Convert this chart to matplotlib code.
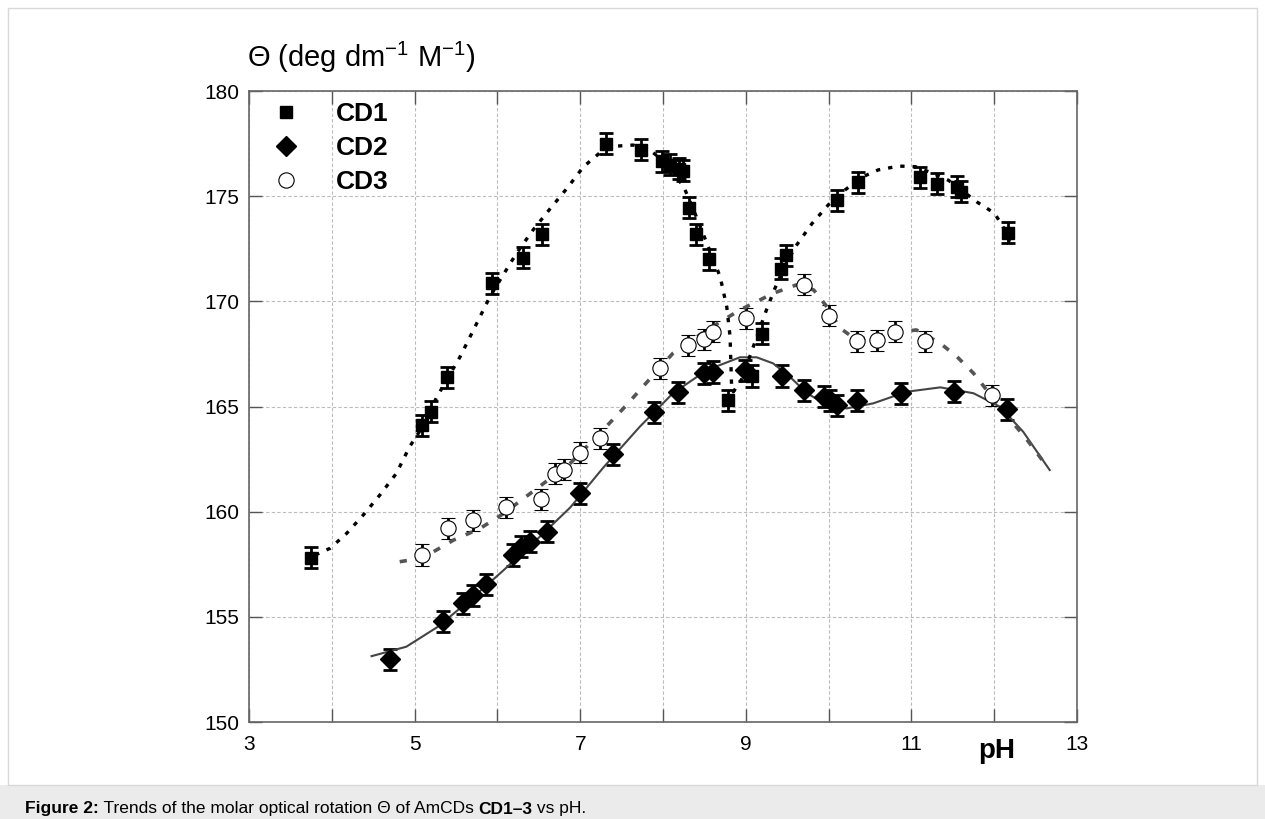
import matplotlib
matplotlib.use('Agg')
import matplotlib.pyplot as plt
from matplotlib.lines import Line2D
from matplotlib.patches import Rectangle

plt.rcParams['font.family'] = ['Liberation Sans', 'DejaVu Sans']
plt.rcParams['mathtext.fontset'] = 'custom'
plt.rcParams['mathtext.rm'] = 'Liberation Sans'
plt.rcParams['mathtext.bf'] = 'Liberation Sans:bold'

# measured points (pH, molar rotation)
cd1_ph = [3.75, 5.09, 5.20, 5.39, 5.93, 6.31, 6.54, 7.31, 7.74, 7.99, 8.08, 8.19, 8.24,
          8.31, 8.40, 8.56, 8.79, 9.08, 9.20, 9.43, 9.49, 10.10, 10.35, 11.10, 11.31,
          11.55, 11.60, 12.17]
cd1_th = [157.8, 164.1, 164.75, 166.4, 170.85, 172.07, 173.2, 177.5, 177.2, 176.65, 176.5,
          176.3, 176.2, 174.45, 173.2, 172.0, 165.3, 166.45, 168.45, 171.55, 172.2, 174.8,
          175.65, 175.9, 175.6, 175.45, 175.2, 173.25]

cd2_ph = [4.70, 5.34, 5.59, 5.71, 5.86, 6.19, 6.29, 6.39, 6.60, 7.00, 7.40, 7.89, 8.18,
          8.50, 8.60, 8.99, 9.44, 9.70, 9.94, 10.02, 10.10, 10.34, 10.88, 11.51, 12.16]
cd2_th = [152.98, 154.8, 155.64, 156.03, 156.54, 157.94, 158.33, 158.57, 159.05, 160.87,
          162.74, 164.72, 165.67, 166.58, 166.64, 166.73, 166.45, 165.78, 165.46, 165.3,
          165.05, 165.27, 165.62, 165.70, 164.86]

cd3_ph = [5.09, 5.40, 5.70, 6.10, 6.53, 6.70, 6.81, 7.00, 7.24, 7.96, 8.30, 8.50, 8.60,
          9.00, 9.70, 10.00, 10.34, 10.59, 10.80, 11.16, 11.97]
cd3_th = [157.94, 159.2, 159.6, 160.2, 160.6, 161.8, 162.0, 162.8, 163.5, 166.81, 167.92,
          168.2, 168.55, 169.19, 170.78, 169.32, 168.11, 168.16, 168.55, 168.11, 165.54]

err = 0.5

# fitted trend lines
fit1_ph = [3.80, 3.98, 4.18, 4.38, 4.58, 4.78, 4.94, 5.07, 5.27, 5.55, 5.75, 5.91, 6.03,
           6.23, 6.43, 6.64, 6.84, 7.04, 7.24, 7.44, 7.64, 7.84, 8.04, 8.25, 8.37, 8.53,
           8.69, 8.77, 8.81, 8.83, 8.85, 8.95, 9.05, 9.15, 9.25, 9.35, 9.45, 9.60, 9.80,
           10.00, 10.20, 10.40, 10.60, 10.85, 11.05, 11.25, 11.45, 11.60, 11.80, 12.00,
           12.10, 12.20]
fit1_th = [157.94, 158.26, 158.97, 159.84, 160.79, 161.82, 163.09, 163.88, 165.46, 167.37,
           168.95, 170.22, 171.0, 172.28, 173.39, 174.42, 175.37, 176.4, 177.07, 177.38,
           177.43, 177.2, 176.56, 175.45, 174.34, 172.76, 171.17, 169.74, 168.32, 165.78,
           165.7, 166.3, 167.4, 168.5, 169.6, 170.6, 171.5, 172.6, 173.7, 174.6, 175.3,
           175.9, 176.25, 176.43, 176.4, 176.1, 175.75, 175.3, 174.7, 174.2, 173.6, 172.7]

fit2_ph = [4.48, 4.90, 5.27, 5.67, 6.07, 6.47, 6.88, 7.28, 7.72, 8.12, 8.53, 8.93, 9.13,
           9.33, 9.53, 9.74, 9.98, 10.22, 10.54, 10.94, 11.35, 11.75, 12.07, 12.35, 12.67]
fit2_th = [153.13, 153.58, 154.5, 155.8, 157.2, 158.65, 160.2, 162.1, 164.04, 165.63,
           166.73, 167.34, 167.34, 167.05, 166.42, 165.63, 165.07, 164.91, 165.15, 165.7,
           165.91, 165.63, 164.99, 163.8, 161.98]

fit3_ph = [4.82, 5.10, 5.47, 5.79, 6.07, 6.51, 6.88, 7.28, 7.56, 7.72, 8.12, 8.53, 8.93,
           9.33, 9.61, 9.82, 9.98, 10.14, 10.34, 10.74, 11.06, 11.35, 11.55, 11.75, 11.91,
           12.00, 12.20, 12.40, 12.60]
fit3_th = [157.62, 157.8, 158.65, 159.2, 159.9, 161.2, 162.3, 163.9, 165.07, 165.78,
           167.53, 168.64, 169.59, 170.38, 170.78, 170.54, 169.74, 168.72, 168.16, 168.48,
           168.64, 168.0, 167.37, 166.58, 165.78, 165.25, 164.35, 163.4, 162.35]

fig = plt.figure(figsize=(12.65, 8.19), dpi=100)

# caption band and frame
fig.patches.append(Rectangle((0, 0), 1, 34 / 819, transform=fig.transFigure,
                             facecolor='#ebebeb', edgecolor='none', zorder=0))
fig.patches.append(Rectangle((8 / 1265, 34 / 819), 1249 / 1265, 777 / 819,
                             transform=fig.transFigure, fill=False,
                             edgecolor='#d8d8d8', lw=1, zorder=0))

ax = fig.add_axes([249 / 1265, 1 - 722 / 819, 828 / 1265, 631 / 819])

eb = dict(yerr=err, ecolor='k', elinewidth=2.0, capsize=4.8, capthick=2.0, ls='none')
ax.errorbar(cd1_ph, cd1_th, fmt='s', color='k', ms=8.5, **eb)
ax.errorbar(cd2_ph, cd2_th, fmt='D', color='k', ms=10, **eb)
ax.errorbar(cd3_ph, cd3_th, fmt='o', mfc='white', mec='k', mew=0.8, ms=11, **eb)

ax.plot(fit2_ph, fit2_th, color='#444444', lw=1.5)
ax.plot(fit3_ph, fit3_th, color='#555555', lw=2.6, ls=(0, (2, 3)))
ax.plot(fit1_ph, fit1_th, color='k', lw=2.4, ls=(0, (1.3, 2.4)))

ax.set_xlim(3, 13)
ax.set_ylim(150, 180)
ax.set_xticks([3, 5, 7, 9, 11, 13])
ax.set_xticks([4, 6, 8, 10, 12], minor=True)
ax.set_yticks([150, 155, 160, 165, 170, 175, 180])
ax.grid(which='both', axis='x', color='#bbbbbb', lw=0.8, ls=(0, (3, 2)))
ax.grid(which='major', axis='y', color='#bbbbbb', lw=0.8, ls=(0, (3, 2)))
ax.tick_params(which='both', direction='in', length=9.5, width=1, color='#555555',
               top=True, right=True, labelsize=15, pad=7)
ax.tick_params(axis='x', pad=9)
for s in ax.spines.values():
    s.set_color('#666666')
    s.set_linewidth(1.2)

handles = [Line2D([], [], marker='s', color='k', ls='none', ms=8.5),
           Line2D([], [], marker='D', color='k', ls='none', ms=10),
           Line2D([], [], marker='o', mfc='white', mec='k', mew=0.8, ls='none', ms=11)]
ax.legend(handles, ['CD1', 'CD2', 'CD3'], loc='upper left', bbox_to_anchor=(0.0287, 0.982),
          frameon=False, borderpad=0, borderaxespad=0, handlelength=1.0,
          handletextpad=1.4, labelspacing=0.38, prop={'weight': 'bold', 'size': 19})

ax.text(0.903, -0.046, 'pH', transform=ax.transAxes, ha='center', va='center',
        fontsize=20, fontweight='bold')
fig.text(246.7 / 1265, 1 - 67.3 / 819, r'Θ (deg dm$^{-1}$ M$^{-1}$)', ha='left',
         va='baseline', fontsize=21)

# caption with mixed weights
parts = [('Figure 2:', 'bold'), (' Trends of the molar optical rotation Θ of AmCDs ', 'normal'),
         ('CD1–3', 'bold'), (' vs pH.', 'normal')]
r = fig.canvas.get_renderer()
x0 = 25
for txt, w in parts:
    t = fig.text(x0 / 1265, 1 - 813.5 / 819, txt, fontsize=12.5, fontweight=w,
                 ha='left', va='baseline')
    x0 = t.get_window_extent(r).x1

fig.savefig('out.png', dpi=100)
